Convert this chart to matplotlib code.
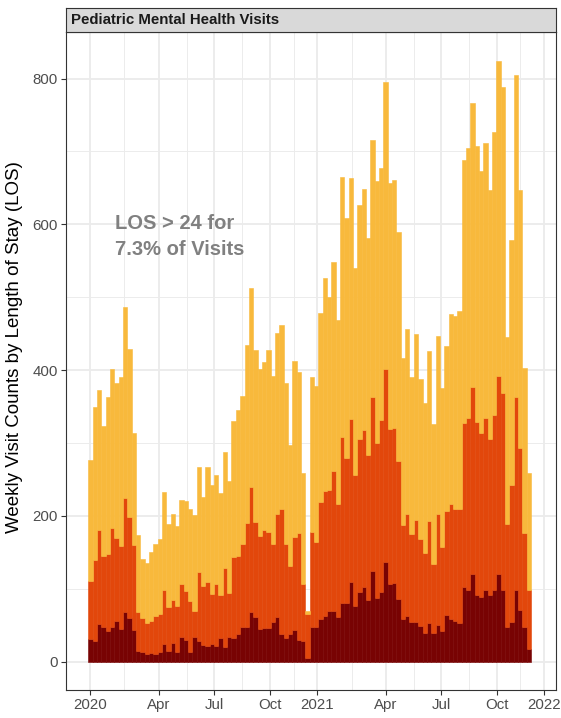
import numpy as np
import matplotlib
matplotlib.use('Agg')
import matplotlib.pyplot as plt
import matplotlib.dates as mdates

plt.rcParams['font.family'] = ['Liberation Sans', 'DejaVu Sans']

total_top = [277, 350, 373, 324, 363, 402, 383, 390, 487, 429, 314, 174, 141, 135, 151, 161, 168, 233, 189, 203,
             186, 222, 220, 209, 201, 267, 226, 267, 243, 256, 231, 288, 248, 330, 345, 364, 435, 513, 428, 402,
             411, 427, 392, 451, 462, 383, 297, 412, 398, 259, 69, 390, 378, 478, 527, 500, 548, 469, 665, 608,
             664, 540, 627, 649, 581, 715, 660, 677, 795, 656, 661, 589, 416, 457, 391, 449, 388, 355, 426, 326,
             447, 375, 433, 477, 474, 481, 688, 704, 767, 708, 673, 712, 647, 726, 824, 789, 445, 578, 805, 647,
             403, 259]
mid_top = [111, 139, 180, 145, 148, 184, 170, 159, 224, 198, 160, 68, 60, 53, 56, 63, 66, 98, 75, 84,
           77, 106, 97, 83, 69, 123, 104, 109, 93, 107, 92, 129, 94, 144, 145, 162, 190, 240, 191, 172,
           180, 178, 162, 202, 209, 162, 131, 171, 176, 106, 66, 178, 164, 219, 234, 236, 261, 217, 308, 280,
           333, 256, 305, 318, 284, 363, 300, 331, 402, 319, 321, 275, 187, 202, 175, 194, 168, 149, 193, 134,
           202, 157, 207, 216, 210, 209, 327, 334, 377, 329, 314, 334, 305, 339, 392, 368, 189, 242, 363, 293,
           177, 99]
long_top = [31, 29, 52, 47, 42, 47, 56, 45, 68, 60, 43, 15, 14, 10, 12, 11, 13, 24, 15, 25,
            14, 34, 30, 13, 34, 29, 23, 22, 24, 22, 33, 20, 34, 33, 38, 47, 47, 68, 61, 45,
            46, 46, 54, 61, 38, 33, 38, 43, 30, 28, 5, 47, 47, 59, 63, 69, 69, 62, 80, 80,
            109, 76, 95, 102, 85, 125, 87, 96, 137, 107, 108, 86, 58, 63, 54, 54, 49, 40, 53, 40,
            50, 42, 64, 58, 56, 53, 102, 98, 121, 91, 89, 98, 91, 98, 121, 99, 48, 55, 99, 71,
            48, 17]

# where the reference puts its x labels
tick_dates = ['2020-01-01', '2020-04-20', '2020-07-19', '2020-10-16', '2021-01-01',
              '2021-04-21', '2021-07-20', '2021-10-17', '2022-01-01']
tick_labels = ['2020', 'Apr', 'Jul', 'Oct', '2021', 'Apr', 'Jul', 'Oct', '2022']

total_top = np.array(total_top)
mid_top = np.array(mid_top)
long_top = np.array(long_top)
weeks = np.datetime64('2020-01-01') + np.arange(len(total_top)) * np.timedelta64(7, 'D')

# layer sizes for stacking
n_long = long_top
n_mid = mid_top - long_top
n_short = total_top - mid_top

fig = plt.figure(figsize=(5.61, 7.18), dpi=100)
ax = fig.add_axes([66 / 561, 1 - 690 / 718, 490 / 561, 658 / 718])

ax.bar(weeks, n_long, width=7, color='#780303', edgecolor='#780303', linewidth=0.4)
ax.bar(weeks, n_mid, width=7, bottom=n_long, color='#E2470B', edgecolor='#E2470B', linewidth=0.4)
ax.bar(weeks, n_short, width=7, bottom=n_long + n_mid, color='#F8B93C', edgecolor='#F8B93C', linewidth=0.4)

major = np.array(tick_dates, dtype='datetime64[D]')
major_num = mdates.date2num(major)
minor_num = (major_num[:-1] + major_num[1:]) / 2
ax.set_xticks(major_num, labels=tick_labels)
ax.set_xticks(minor_num, minor=True)
t0 = mdates.date2num(np.datetime64('2020-01-01'))
ax.set_xlim(t0 - 39.3, t0 + 750.7)

ax.set_yticks([0, 200, 400, 600, 800])
ax.set_yticks([100, 300, 500, 700], minor=True)
ax.set_ylim(-38.8, 863.8)

ax.set_axisbelow(True)
ax.grid(which='major', color='#EBEBEB', linewidth=1.3)
ax.grid(which='minor', color='#EBEBEB', linewidth=0.65)
ax.tick_params(which='major', length=3.3, width=0.8, color='#333333',
               labelsize=10.8, labelcolor='#4D4D4D', pad=2.5)
ax.tick_params(which='minor', length=0)
for s in ax.spines.values():
    s.set_color('#333333')
    s.set_linewidth(0.8)

ax.text(mdates.date2num(np.datetime64('2020-02-09')), 583, 'LOS > 24 for\n7.3% of Visits',
        ha='left', va='center', fontsize=14.5, fontweight='bold', color='#808080', linespacing=1.45)

# facet strip
strip = fig.add_axes([66 / 561, 1 - 32 / 718, 490 / 561, 24 / 718])
strip.set_facecolor('#D9D9D9')
strip.set_xticks([])
strip.set_yticks([])
for s in strip.spines.values():
    s.set_color('#333333')
    s.set_linewidth(0.8)
strip.text(0.0105, 0.5, 'Pediatric Mental Health Visits', transform=strip.transAxes,
           ha='left', va='center', fontsize=10.8, fontweight='bold', color='#1A1A1A')

fig.text(15 / 561, 1 - 347 / 718, 'Weekly Visit Counts by Length of Stay (LOS)',
         rotation=90, ha='center', va='center', fontsize=13.5, color='black')

fig.savefig('out.png', dpi=100)
